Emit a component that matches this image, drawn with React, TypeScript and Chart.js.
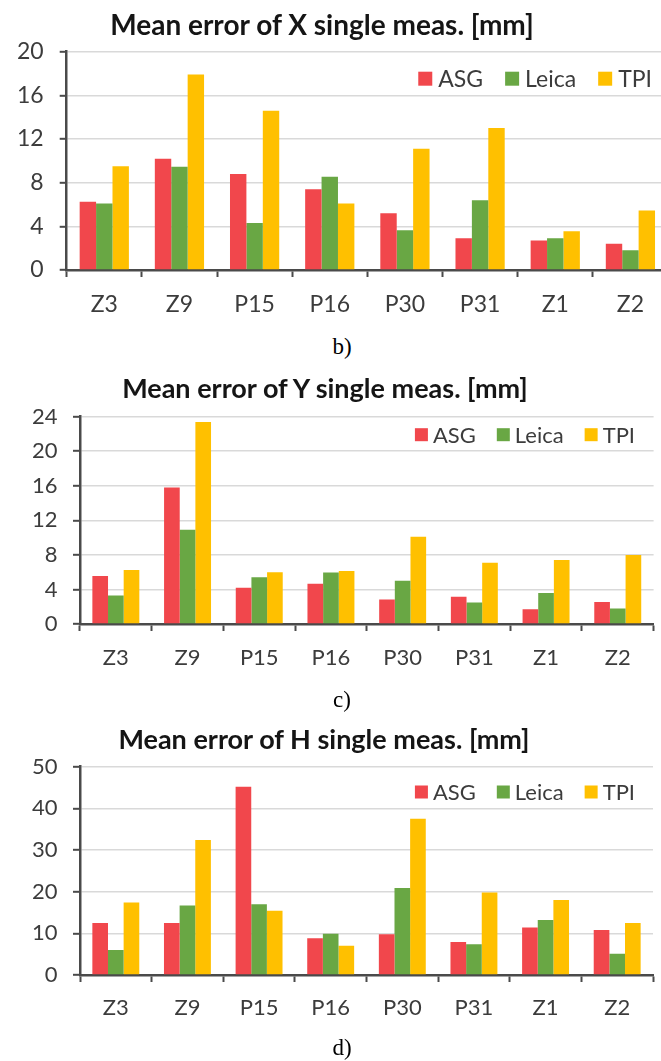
import React, { useEffect, useRef } from "react";
import { Chart, registerables } from "chart.js";

Chart.register(...registerables);

// ---------- data ----------
const categories = ["Z3", "Z9", "P15", "P16", "P30", "P31", "Z1", "Z2"];
const seriesNames = ["ASG", "Leica", "TPI"];
const seriesColors = ["#F1474C", "#69A744", "#FFC000"];

const xAsg = [6.25, 10.2, 8.8, 7.4, 5.2, 2.9, 2.7, 2.4];
const xLeica = [6.1, 9.45, 4.3, 8.55, 3.65, 6.4, 2.9, 1.8];
const xTpi = [9.5, 17.9, 14.6, 6.1, 11.1, 13.0, 3.55, 5.45];
const xTicks = [0, 4, 8, 12, 16, 20];

const yAsg = [5.55, 15.8, 4.2, 4.65, 2.85, 3.15, 1.7, 2.55];
const yLeica = [3.3, 10.9, 5.4, 5.95, 5.0, 2.5, 3.6, 1.8];
const yTpi = [6.25, 23.4, 6.0, 6.15, 10.1, 7.1, 7.4, 8.0];
const yTicks = [0, 4, 8, 12, 16, 20, 24];

const hAsg = [12.5, 12.5, 45.2, 8.8, 9.8, 7.9, 11.4, 10.8];
const hLeica = [6.0, 16.7, 17.0, 9.9, 20.9, 7.4, 13.2, 5.1];
const hTpi = [17.4, 32.4, 15.4, 7.0, 37.5, 19.8, 18.0, 12.5];
const hTicks = [0, 10, 20, 30, 40, 50];

const titles = [
  "Mean error of X single meas. [mm]",
  "Mean error of Y single meas. [mm]",
  "Mean error of H single meas. [mm]",
];
const captions = ["b)", "c)", "d)"];

// ---------- layout ----------
type Geo = {
  top: number;
  width: number;
  height: number;
  padTop: number;
  padRight: number;
  yWidth: number;
  xHeight: number;
  font: number;
  legendFont: number;
  yPad: number;
  xPad: number;
  legendDy: number;
  legendRight: number;
  box: number;
  boxGap: number;
  itemGap: number;
  titleCx: number;
  titleCy: number;
  titleSize: number;
  capCy: number;
};

const geos: Geo[] = [
  {
    top: 0, width: 670, height: 330, padTop: 51.7, padRight: 2, yWidth: 66.7, xHeight: 60,
    font: 23, legendFont: 23, yPad: 16, xPad: 14.2, legendDy: 27, legendRight: 16, box: 14, boxGap: 6, itemGap: 22,
    titleCx: 322, titleCy: 23.5, titleSize: 28, capCy: 347,
  },
  {
    top: 360, width: 661, height: 340, padTop: 56.7, padRight: 7.4, yWidth: 80, xHeight: 76,
    font: 22, legendFont: 22, yPad: 15.5, xPad: 13.8, legendDy: 18, legendRight: 18.6, box: 13, boxGap: 5, itemGap: 21,
    titleCx: 325, titleCy: 388, titleSize: 27, capCy: 700,
  },
  {
    top: 710, width: 661, height: 340, padTop: 56.7, padRight: 8, yWidth: 80, xHeight: 75,
    font: 22, legendFont: 22, yPad: 15.5, xPad: 12.8, legendDy: 25.3, legendRight: 18, box: 13, boxGap: 5, itemGap: 21,
    titleCx: 324, titleCy: 738.7, titleSize: 27, capCy: 1048,
  },
];

const FONT = "Lato, 'Open Sans', sans-serif";
const TEXT = "#3c3c3c";
const AXIS = "#4a4a4a";
const GRID = "#d9d9d9";

const insideLegend = {
  id: "insideLegend",
  afterDraw(chart: any, _args: any, opts: any) {
    const { ctx, chartArea } = chart;
    ctx.save();
    ctx.font = `${opts.font}px ${FONT}`;
    ctx.textBaseline = "middle";
    ctx.textAlign = "left";
    const items = chart.data.datasets.map((ds: any) => ({
      text: ds.label as string,
      color: ds.backgroundColor as string,
      w: ctx.measureText(ds.label).width,
    }));
    let total = 0;
    items.forEach((it: any, i: number) => {
      total += opts.box + opts.boxGap + it.w + (i < items.length - 1 ? opts.itemGap : 0);
    });
    let x = chartArea.right - opts.right - total;
    const y = chartArea.top + opts.dy;
    items.forEach((it: any) => {
      ctx.fillStyle = it.color;
      ctx.fillRect(x, y - opts.box / 2, opts.box, opts.box);
      x += opts.box + opts.boxGap;
      ctx.fillStyle = TEXT;
      ctx.fillText(it.text, x, y + 1);
      x += it.w + opts.itemGap;
    });
    ctx.restore();
  },
};

function BarChart({ series, ticks, geo }: { series: number[][]; ticks: number[]; geo: Geo }) {
  const ref = useRef<HTMLCanvasElement>(null);
  useEffect(() => {
    const chart = new Chart(ref.current as HTMLCanvasElement, {
      type: "bar",
      data: {
        labels: categories,
        datasets: seriesNames.map((name, i) => ({
          label: name,
          data: series[i],
          backgroundColor: seriesColors[i],
          borderWidth: 0,
          categoryPercentage: 0.655,
          barPercentage: 1,
        })),
      },
      options: {
        responsive: false,
        animation: false,
        devicePixelRatio: 1,
        layout: { padding: { top: geo.padTop, right: geo.padRight, left: 0, bottom: 0 } },
        plugins: {
          legend: { display: false },
          title: { display: false },
          tooltip: { enabled: false },
          insideLegend: {
            font: geo.legendFont,
            box: geo.box,
            boxGap: geo.boxGap,
            itemGap: geo.itemGap,
            right: geo.legendRight,
            dy: geo.legendDy,
          },
        } as any,
        scales: {
          x: {
            grid: {
              display: true,
              drawOnChartArea: false,
              drawTicks: true,
              tickLength: 7,
              tickColor: AXIS,
              tickWidth: 2,
              offset: true,
            },
            border: { display: true, color: AXIS, width: 2.5 },
            ticks: {
              font: { family: FONT, size: geo.font },
              color: TEXT,
              padding: geo.xPad,
              maxRotation: 0,
              autoSkip: false,
            },
            afterFit: (s: any) => {
              s.height = geo.xHeight;
            },
          },
          y: {
            min: ticks[0],
            max: ticks[ticks.length - 1],
            afterBuildTicks: (s: any) => {
              s.ticks = ticks.map((v) => ({ value: v }));
            },
            grid: {
              color: GRID,
              lineWidth: 1.6,
              drawTicks: true,
              tickLength: 7,
              tickColor: AXIS,
              tickWidth: 2,
            },
            border: { display: true, color: AXIS, width: 2.5 },
            ticks: {
              font: { family: FONT, size: geo.font },
              color: TEXT,
              padding: geo.yPad,
            },
            afterFit: (s: any) => {
              s.width = geo.yWidth;
            },
          },
        },
      } as any,
      plugins: [insideLegend],
    });
    return () => chart.destroy();
  }, []);
  return (
    <canvas
      ref={ref}
      width={geo.width}
      height={geo.height}
      style={{ position: "absolute", left: 0, top: geo.top, width: geo.width, height: geo.height }}
    />
  );
}

export default function App() {
  const all = [
    { series: [xAsg, xLeica, xTpi], ticks: xTicks },
    { series: [yAsg, yLeica, yTpi], ticks: yTicks },
    { series: [hAsg, hLeica, hTpi], ticks: hTicks },
  ];
  return (
    <div
      style={{
        position: "absolute",
        left: 0,
        top: 0,
        width: 661,
        height: 1061,
        overflow: "hidden",
        background: "#ffffff",
      }}
    >
      {all.map((c, i) => {
        const g = geos[i];
        return (
          <React.Fragment key={i}>
            <BarChart series={c.series} ticks={c.ticks} geo={g} />
            <div
              style={{
                position: "absolute",
                left: g.titleCx - 320,
                width: 640,
                top: g.titleCy - 17,
                height: 34,
                lineHeight: "34px",
                textAlign: "center",
                fontFamily: FONT,
                fontWeight: 700,
                fontSize: g.titleSize,
                color: "#151515",
                whiteSpace: "nowrap",
              }}
            >
              {titles[i]}
            </div>
            <div
              style={{
                position: "absolute",
                left: 292,
                width: 100,
                top: g.capCy - 14,
                height: 28,
                lineHeight: "28px",
                textAlign: "center",
                fontFamily: "'Liberation Serif', 'Times New Roman', serif",
                fontSize: 23,
                color: "#000",
              }}
            >
              {captions[i]}
            </div>
          </React.Fragment>
        );
      })}
    </div>
  );
}
